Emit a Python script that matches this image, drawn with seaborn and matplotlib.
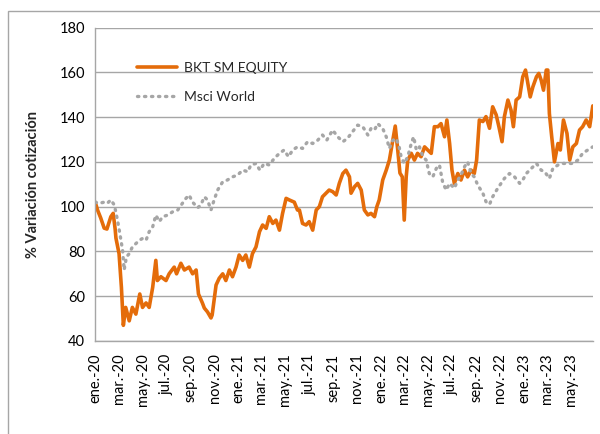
import pandas as pd
import matplotlib.pyplot as plt
from matplotlib.patches import Rectangle
import seaborn as sns

# BKT SM EQUITY (base 100)
bkt_dates = [
    "2020-01-01", "2020-01-07", "2020-01-15", "2020-01-24", "2020-01-31", "2020-02-10", "2020-02-16",
    "2020-02-21", "2020-02-23", "2020-03-02", "2020-03-08", "2020-03-13", "2020-03-19", "2020-03-28",
    "2020-04-05", "2020-04-14", "2020-04-24", "2020-05-01", "2020-05-10", "2020-05-18", "2020-05-27",
    "2020-06-04", "2020-06-08", "2020-06-17", "2020-06-30", "2020-07-08", "2020-07-21", "2020-07-27",
    "2020-08-07", "2020-08-16", "2020-08-28", "2020-09-06", "2020-09-15", "2020-09-21", "2020-10-01",
    "2020-10-06", "2020-10-14", "2020-10-23", "2020-10-26", "2020-11-05", "2020-11-13", "2020-11-22",
    "2020-11-30", "2020-12-09", "2020-12-17", "2020-12-26", "2021-01-03", "2021-01-12", "2021-01-20",
    "2021-01-29", "2021-02-06", "2021-02-15", "2021-02-24", "2021-03-04", "2021-03-13", "2021-03-21",
    "2021-03-30", "2021-04-07", "2021-04-16", "2021-04-24", "2021-05-03", "2021-05-11", "2021-05-24",
    "2021-06-01", "2021-06-06", "2021-06-14", "2021-06-23", "2021-07-01", "2021-07-10", "2021-07-19",
    "2021-07-27", "2021-08-04", "2021-08-13", "2021-08-21", "2021-08-30", "2021-09-08", "2021-09-16",
    "2021-09-25", "2021-10-03", "2021-10-12", "2021-10-16", "2021-10-25", "2021-11-02", "2021-11-11",
    "2021-11-19", "2021-11-28", "2021-12-06", "2021-12-15", "2021-12-21", "2021-12-27", "2022-01-05",
    "2022-01-14", "2022-01-22", "2022-01-30", "2022-02-06", "2022-02-12", "2022-02-18", "2022-02-24",
    "2022-03-01", "2022-03-06", "2022-03-10", "2022-03-19", "2022-03-27", "2022-04-04", "2022-04-13",
    "2022-04-22", "2022-04-30", "2022-05-09", "2022-05-17", "2022-05-26", "2022-06-03", "2022-06-12",
    "2022-06-18", "2022-06-25", "2022-07-01", "2022-07-07", "2022-07-16", "2022-07-24", "2022-08-02",
    "2022-08-10", "2022-08-19", "2022-08-27", "2022-09-02", "2022-09-09", "2022-09-18", "2022-09-26",
    "2022-10-05", "2022-10-13", "2022-10-22", "2022-10-29", "2022-11-06", "2022-11-12", "2022-11-21",
    "2022-11-29", "2022-12-05", "2022-12-12", "2022-12-21", "2022-12-29", "2023-01-05", "2023-01-11",
    "2023-01-17", "2023-01-24", "2023-02-02", "2023-02-08", "2023-02-14", "2023-02-20", "2023-02-27",
    "2023-03-03", "2023-03-07", "2023-03-13", "2023-03-20", "2023-03-29", "2023-04-04", "2023-04-12",
    "2023-04-21", "2023-04-28", "2023-05-06", "2023-05-15", "2023-05-23", "2023-05-31", "2023-06-09",
    "2023-06-18", "2023-06-22", "2023-06-26",
]
bkt_values = [
    102, 98.5, 95, 90.4, 90, 95.5, 97,
    90, 86, 79, 64, 47, 55, 49,
    55, 52, 61, 55, 57, 55, 64,
    76, 67, 68.7, 67, 70, 73, 70,
    74.7, 71.7, 73, 70, 71.7, 61, 57,
    54.7, 53, 50.3, 51.6, 65, 68, 70,
    67, 71.7, 68.7, 73, 78.4, 76, 78.4,
    73, 79, 82, 88.8, 91.8, 90.3, 95.5,
    92.5, 94, 89.5, 97, 103.7, 103, 102,
    98.5, 98.5, 92.5, 91.8, 93.3, 89.5, 98.5,
    100, 104.4, 106, 107.4, 106.7, 105.2, 110.4,
    114.8, 116.3, 113.3, 106, 108.9, 110.4, 107.4,
    98.5, 96.3, 97, 95.5, 100, 103, 111.9,
    116.3, 120.8, 129, 136, 126, 115, 113.3,
    94, 113.3, 120.8, 123.8, 120.8, 123.8, 122.3,
    126.7, 125.3, 123.8, 135.7, 135.7, 137.1, 131.2,
    138.7, 128.2, 116.3, 110.4, 114.8, 111.9, 116.3,
    113.3, 116.3, 114.8, 120.8, 138.7, 138, 140.2,
    135, 144.6, 141, 135.7, 129, 140.2, 147.6,
    143.1, 135.7, 147.6, 149, 158, 161, 155,
    149, 153.6, 158, 159.5, 156.5, 152, 161,
    161, 141.6, 131.2, 120, 128.2, 125.3, 138.7,
    132.7, 120.8, 126.7, 128.2, 134.2, 135.7, 138.7,
    135.7, 140.2, 145,
]

# Msci World (base 100)
msci_dates = [
    "2020-01-01", "2020-01-11", "2020-01-24", "2020-02-01", "2020-02-10", "2020-02-19", "2020-02-27",
    "2020-03-04", "2020-03-11", "2020-03-15", "2020-03-21", "2020-03-28", "2020-04-05", "2020-04-14",
    "2020-04-23", "2020-05-01", "2020-05-10", "2020-05-18", "2020-05-27", "2020-06-04", "2020-06-13",
    "2020-06-21", "2020-07-04", "2020-07-17", "2020-07-30", "2020-08-11", "2020-08-20", "2020-08-28",
    "2020-09-06", "2020-09-19", "2020-09-27", "2020-10-06", "2020-10-14", "2020-10-23", "2020-10-31",
    "2020-11-09", "2020-11-22", "2020-12-04", "2020-12-17", "2020-12-30", "2021-01-12", "2021-01-25",
    "2021-02-02", "2021-02-15", "2021-02-25", "2021-03-08", "2021-03-21", "2021-04-03", "2021-04-16",
    "2021-04-28", "2021-05-09", "2021-05-20", "2021-06-01", "2021-06-14", "2021-06-27", "2021-07-10",
    "2021-07-23", "2021-08-04", "2021-08-15", "2021-08-30", "2021-09-12", "2021-09-25", "2021-10-07",
    "2021-10-20", "2021-11-02", "2021-11-15", "2021-11-28", "2021-12-06", "2021-12-15", "2021-12-23",
    "2022-01-05", "2022-01-14", "2022-01-22", "2022-01-30", "2022-02-08", "2022-02-15", "2022-02-21",
    "2022-03-01", "2022-03-10", "2022-03-19", "2022-03-25", "2022-04-01", "2022-04-09", "2022-04-18",
    "2022-04-26", "2022-05-04", "2022-05-13", "2022-05-22", "2022-05-30", "2022-06-07", "2022-06-16",
    "2022-06-25", "2022-07-07", "2022-07-16", "2022-07-24", "2022-08-02", "2022-08-10", "2022-08-19",
    "2022-08-27", "2022-09-05", "2022-09-18", "2022-09-26", "2022-10-05", "2022-10-13", "2022-10-26",
    "2022-11-12", "2022-11-25", "2022-12-08", "2022-12-21", "2022-12-29", "2023-01-07", "2023-01-20",
    "2023-02-02", "2023-02-14", "2023-02-23", "2023-03-07", "2023-03-16", "2023-03-29", "2023-04-10",
    "2023-04-23", "2023-05-06", "2023-05-19", "2023-05-31", "2023-06-13", "2023-06-26",
]
msci_values = [
    102, 101.5, 102, 101.5, 103, 100.7, 94,
    88, 80.6, 71.7, 77.6, 79, 82, 83.5,
    85, 85.8, 85, 88.8, 91, 96.2, 93.3,
    95.5, 96.2, 97.7, 98.5, 101.5, 103.7, 105.2,
    102, 99.5, 100.7, 104.4, 103, 98.5, 103,
    107.4, 111.1, 111.9, 113.3, 114.1, 116.3, 115.6,
    118.6, 119.3, 116.3, 119.3, 118.6, 121.6, 123.8,
    125.3, 122.3, 125.3, 126.7, 126, 129, 128.2,
    129.7, 132, 129.7, 134.2, 131.2, 129, 130.5,
    133.5, 136.4, 135.7, 132, 134.9, 134.2, 137.1,
    134.9, 131.2, 126, 129.5, 130.5, 127.5, 122.3,
    119.3, 122.3, 128.2, 131.2, 125.3, 126.7, 122.3,
    120.8, 114.8, 113.3, 117.1, 118.6, 111.1, 107.4,
    110.4, 108.2, 111.9, 114.1, 117.8, 120, 114.8,
    113.3, 109.6, 106, 102.2, 101, 104.4, 108.2,
    112.6, 114.8, 113.3, 110.4, 111.9, 114.8, 117.1,
    119.3, 116.3, 115.6, 112.6, 117.1, 118.6, 119.3,
    119.3, 119.3, 120.8, 123.8, 125.3, 126.7,
]

tick_labels = [
    "ene.-20", "mar.-20", "may.-20", "jul.-20", "sep.-20", "nov.-20",
    "ene.-21", "mar.-21", "may.-21", "jul.-21", "sep.-21", "nov.-21",
    "ene.-22", "mar.-22", "may.-22", "jul.-22", "sep.-22", "nov.-22",
    "ene.-23", "mar.-23", "may.-23",
]

bkt = pd.DataFrame({"fecha": pd.to_datetime(bkt_dates), "valor": bkt_values})
msci = pd.DataFrame({"fecha": pd.to_datetime(msci_dates), "valor": msci_values})

sns.set_style("white")
plt.rcParams['font.family'] = ['Lato', 'DejaVu Sans']

fig = plt.figure(figsize=(6, 4.34), dpi=100)
ax = fig.add_axes([0.158, 0.2143, 0.83, 0.7223])

sns.lineplot(data=bkt, x="fecha", y="valor", ax=ax, color="#E46C0A", lw=2.6,
             label="BKT SM EQUITY")
sns.lineplot(data=msci, x="fecha", y="valor", ax=ax, color="#A6A6A6", lw=2.4,
             linestyle=(0, (0.4, 1.7)), dash_capstyle="round",
             label="Msci World")

ax.set_ylim(40, 180)
ax.set_yticks(range(40, 181, 20))
ax.set_xlim(pd.Timestamp("2019-12-31"), pd.Timestamp("2023-06-26"))
ax.set_xticks(pd.date_range("2020-01-01", "2023-05-01", freq="2MS"))
ax.set_xticklabels(tick_labels, rotation=90)
ax.tick_params(axis='both', labelsize=10.5, colors='black', length=0)
ax.tick_params(axis='x', pad=9)
ax.tick_params(axis='y', pad=7)

ax.grid(axis='y', color='#A6A6A6', lw=1)
ax.set_axisbelow(True)
for s in ['top', 'right']:
    ax.spines[s].set_visible(False)
for s in ['left', 'bottom']:
    ax.spines[s].set_color('#A6A6A6')
    ax.spines[s].set_linewidth(1)

ax.set_xlabel("")
ax.set_ylabel("% Variación cotización", fontsize=10.5, fontweight='bold', labelpad=14)

ax.legend(loc='upper left', bbox_to_anchor=(0.06, 0.93), frameon=False,
          fontsize=10, handlelength=2.9, labelspacing=1.2, handletextpad=0.5)

fig.patches.append(Rectangle((8 / 600, -0.05), 1.0, 1.05 - 11 / 434, transform=fig.transFigure,
                             fill=False, edgecolor='#A6A6A6', lw=1))

fig.savefig("out.png", dpi=100)
